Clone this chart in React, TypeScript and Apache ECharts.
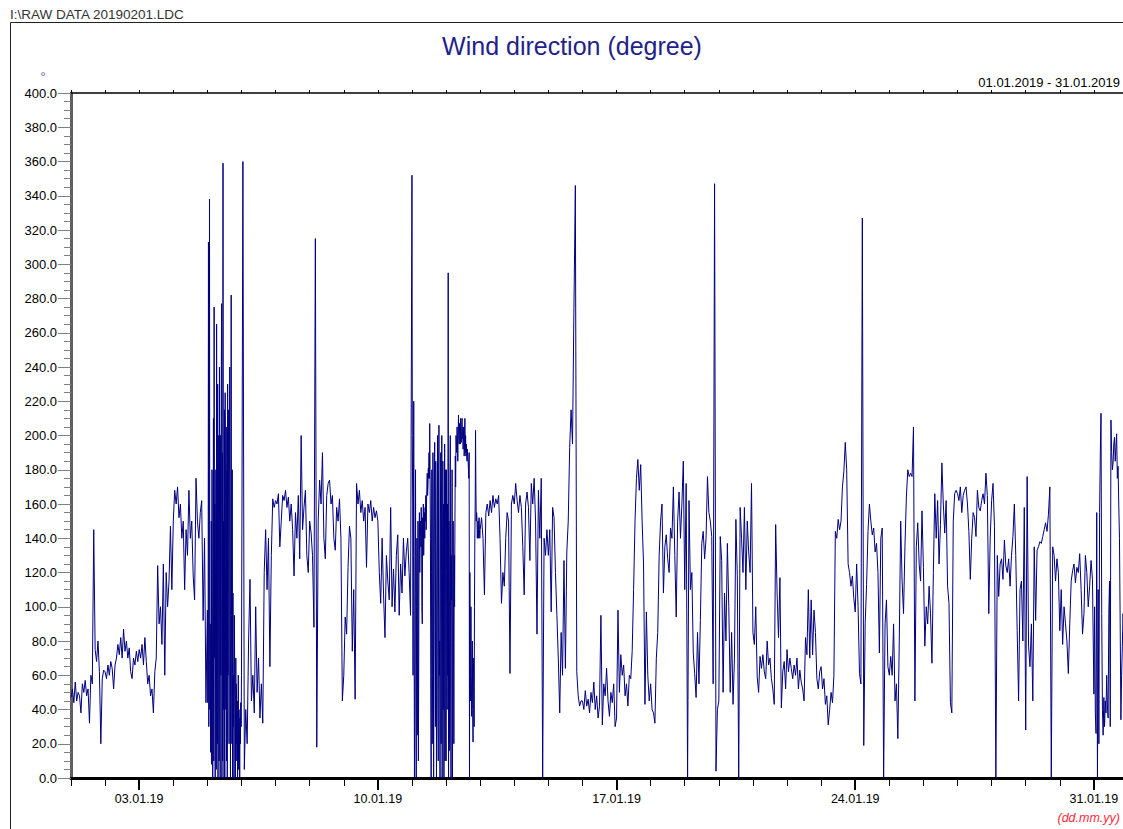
import React, { useEffect, useRef } from "react";
import * as echarts from "echarts";

// Wind direction (degree), January 2019. One row per day; hourly values,
// quarter-hourly / half-hourly on the turbulent days listed below.
const jan01 = [47,52,44,56,45,50,48,38,55,50,57,48,52,32,60,55,145,75,68,80,62,20,58,63];
const jan02 = [62,58,66,60,68,64,52,66,70,78,72,82,70,87,74,80,70,76,62,58,70,66,74,68];
const jan03 = [75,70,78,66,82,68,55,60,48,52,38,62,70,124,90,100,78,125,60,120,100,115,147,110];
const jan04 = [150,168,160,170,152,160,140,150,110,145,130,168,140,150,118,104,175,150,140,155,162,92,140,44];
const jan05 = [
  98,44,60,313,30,120,338,40,90,15,20,150,
  8,180,100,0,40,210,10,275,70,160,0,120,
  180,5,265,30,20,230,0,150,200,10,240,60,
  0,200,60,230,277,0,190,10,359,40,150,0,
  215,0,225,90,40,205,10,180,0,230,60,180,
  215,20,195,240,120,0,160,282,95,20,180,0,
  108,30,60,0,95,56,40,0,70,20,55,10,
  45,0,20,60,5,40,30,0,35,20,44,30,
];
const jan06 = [60,360,5,40,20,80,116,45,60,38,100,50,70,35,55,32,120,145,110,140,65,130,163,158];
const jan07 = [162,160,166,135,150,165,162,168,158,164,150,160,145,118,155,140,165,128,200,145,158,168,130,120];
const jan08 = [150,143,130,88,315,18,150,174,160,190,140,128,165,172,174,160,165,140,133,158,150,163,140,45];
const jan09 = [60,94,84,123,147,140,74,110,46,172,160,168,155,162,150,158,123,160,155,162,150,158,152,156];
const jan10 = [150,120,102,140,107,82,130,115,104,158,100,122,97,130,142,95,125,108,140,118,132,140,120,95];
const jan11 = [
  352,200,160,60,130,220,90,0,40,130,180,60,
  0,100,140,25,80,150,10,60,145,155,120,142,
  150,135,158,148,100,90,152,140,160,130,145,155,
  140,158,150,165,145,160,170,178,165,170,181,175,
  190,175,207,180,140,60,0,120,180,20,60,190,
  150,0,100,170,196,80,30,185,120,0,90,150,
  200,40,10,180,206,60,80,0,150,190,20,120,
  200,0,100,185,40,160,0,90,195,10,150,180,
];
const jan12 = [
  10,180,120,40,160,60,295,0,150,100,16,175,
  200,41,0,130,104,180,0,60,150,79,20,130,
  100,150,188,170,200,195,190,205,198,185,200,212,
  200,195,207,203,195,210,204,196,200,210,198,205,
  192,200,205,188,196,210,190,200,188,195,190,185,
  192,188,185,180,175,190,0,120,66,45,100,60,
  36,55,80,40,21,70,60,30,100,140,160,203,
  170,150,155,152,140,145,150,140,148,152,145,140,
];
const jan13 = [145,152,140,107,155,160,153,162,155,165,158,163,160,165,140,102,120,112,140,155,150,61,160,165];
const jan14 = [160,172,162,155,165,158,135,107,160,167,158,127,172,160,175,150,84,168,140,175,0,140,130,145];
const jan15 = [130,145,97,158,152,120,95,70,38,85,60,127,64,132,150,193,215,195,274,346,62,48,42,45];
const jan16 = [45,40,51,42,46,38,50,44,56,40,48,35,42,95,31,55,48,64,45,36,50,44,55,30];
const jan17 = [35,98,50,72,60,66,48,55,42,60,58,74,110,150,175,186,168,183,150,125,43,97,60,45];
const jan18 = [55,40,38,32,70,85,130,150,160,108,135,142,128,120,146,140,170,130,94,150,167,140,160,185];
const jan19 = [110,172,0,162,110,120,73,61,47,85,55,92,137,144,128,140,176,155,150,141,55,347,4,40];
const jan20 = [45,141,127,50,108,80,137,100,50,85,43,70,151,118,0,158,140,120,158,110,150,132,120,172];
const jan21 = [85,78,100,59,50,71,64,72,62,58,80,66,70,58,52,43,148,108,82,117,41,62,68,52];
const jan22 = [75,62,70,64,58,66,60,70,52,63,56,52,45,82,72,110,70,104,72,98,85,58,52,62];
const jan23 = [65,52,58,43,48,31,40,50,44,60,144,140,151,145,150,170,179,196,180,125,120,112,118,105];
const jan24 = [97,125,100,61,55,327,19,90,113,144,160,150,142,146,132,137,120,73,140,146,0,90,104,65];
const jan25 = [60,71,60,90,45,55,23,80,150,115,96,135,164,180,176,178,176,205,45,135,149,125,115,156];
const jan26 = [123,77,100,90,112,96,67,120,166,140,162,125,148,184,160,143,162,112,102,44,38,150,166,168];
const jan27 = [166,162,170,155,165,168,170,160,144,116,140,155,152,141,168,158,156,162,166,160,178,165,96,140];
const jan28 = [162,172,147,0,130,106,125,128,116,139,124,120,128,112,130,141,160,130,86,45,110,115,80,158];
const jan29 = [28,176,77,65,90,45,135,92,133,135,138,137,141,145,149,144,154,170,0,135,130,115,128,120];
const jan30 = [86,110,78,100,90,80,61,90,115,121,125,114,123,120,131,110,84,96,130,120,100,112,127,116];
const jan31 = [49,100,38,26,155,0,110,20,155,188,213,96,40,25,47,30,45,38,60,42,35,96,115,30,209,190,180,184,195,199,185,193,201,175,182,160,140,90,34,60,77,96,85];

const dailyValues = [
  jan01, jan02, jan03, jan04, jan05, jan06, jan07, jan08, jan09, jan10,
  jan11, jan12, jan13, jan14, jan15, jan16, jan17, jan18, jan19, jan20,
  jan21, jan22, jan23, jan24, jan25, jan26, jan27, jan28, jan29, jan30, jan31,
];
const quarterHourDays = [4, 10, 11];
const halfHourDays = [30];

const weekTickDays = [2, 9, 16, 23, 30];
const weekTickLabels = ["03.01.19", "10.01.19", "17.01.19", "24.01.19", "31.01.19"];

const fileName = "I:\\RAW DATA 20190201.LDC";
const chartTitle = "Wind direction (degree)";
const periodText = "01.01.2019 - 31.01.2019";
const unitText = "°";
const dateFormatText = "(dd.mm.yy)";

const FONT = '"Liberation Sans", Arial, Helvetica, sans-serif';
const CANVAS_W = 1140;

function buildPoints(): [number, number][] {
  const pts: [number, number][] = [];
  dailyValues.forEach((vals, d) => {
    const n = quarterHourDays.includes(d) ? 96 : halfHourDays.includes(d) ? 48 : 24;
    vals.forEach((v, i) => pts.push([d + i / n, v]));
  });
  return pts;
}

export default function App() {
  const ref = useRef<HTMLDivElement>(null);

  useEffect(() => {
    if (!ref.current) return;
    const chart = echarts.init(ref.current, null, { renderer: "svg" });
    const baseX = {
      type: "value",
      min: 0,
      max: 31,
      interval: 1,
      gridIndex: 0,
      splitLine: { show: false },
    };
    chart.setOption({
      animation: false,
      backgroundColor: "#ffffff",
      grid: { left: 71, top: 93, width: 1057, height: 685, containLabel: false },
      xAxis: [
        {
          ...baseX,
          position: "bottom",
          axisLine: { show: true, onZero: false, lineStyle: { color: "#000000", width: 3 } },
          axisTick: { show: true, length: 8, lineStyle: { color: "#000000", width: 1 } },
          axisLabel: {
            show: true,
            margin: 14,
            fontSize: 12.5,
            color: "#000000",
            fontFamily: FONT,
            formatter: (v: number) => {
              const k = weekTickDays.indexOf(Math.round(v));
              return k >= 0 ? weekTickLabels[k] : "";
            },
          },
        },
        {
          ...baseX,
          position: "bottom",
          axisLine: { show: false, onZero: false },
          axisTick: {
            show: true,
            length: 12,
            customValues: weekTickDays,
            lineStyle: { color: "#000000", width: 2 },
          },
          axisLabel: { show: false },
        },
        {
          ...baseX,
          position: "top",
          axisLine: { show: true, onZero: false, lineStyle: { color: "#000000", width: 1.5 } },
          axisTick: { show: true, length: 3, lineStyle: { color: "#000000", width: 1 } },
          axisLabel: { show: false },
        },
      ],
      yAxis: {
        type: "value",
        min: 0,
        max: 400,
        interval: 20,
        axisLine: { show: true, onZero: false, lineStyle: { color: "#606060", width: 3 } },
        axisTick: { show: true, length: 13, lineStyle: { color: "#808080", width: 1 } },
        minorTick: { show: true, splitNumber: 4, length: 7, lineStyle: { color: "#808080", width: 1 } },
        axisLabel: {
          margin: 14,
          fontSize: 13,
          color: "#000000",
          fontFamily: FONT,
          formatter: (v: number) => v.toFixed(1),
        },
        splitLine: { show: false },
        minorSplitLine: { show: false },
      },
      series: [
        {
          type: "line",
          xAxisIndex: 0,
          yAxisIndex: 0,
          data: buildPoints(),
          showSymbol: false,
          symbol: "none",
          clip: true,
          lineStyle: { color: "#000080", width: 1 },
          z: 1,
        },
      ],
      graphic: [
        { type: "line", shape: { x1: 10.5, y1: 22.5, x2: CANVAS_W, y2: 22.5 }, style: { stroke: "#222222", lineWidth: 1 } },
        { type: "line", shape: { x1: 10.5, y1: 22.5, x2: 10.5, y2: 829 }, style: { stroke: "#222222", lineWidth: 1 } },
        {
          type: "text", x: 10, y: 14,
          style: { text: fileName, fill: "#333333", font: `13.5px ${FONT}`, textAlign: "left", align: "left", textVerticalAlign: "middle", verticalAlign: "middle" },
        },
        {
          type: "text", x: 572, y: 46,
          style: { text: chartTitle, fill: "#22228a", font: `25px ${FONT}`, textAlign: "center", align: "center", textVerticalAlign: "middle", verticalAlign: "middle" },
        },
        {
          type: "text", x: 1120, y: 82,
          style: { text: periodText, fill: "#000000", font: `13px ${FONT}`, textAlign: "right", align: "right", textVerticalAlign: "middle", verticalAlign: "middle" },
        },
        {
          type: "text", x: 43, y: 77,
          style: { text: unitText, fill: "#6a6ab4", font: `14px ${FONT}`, textAlign: "center", align: "center", textVerticalAlign: "middle", verticalAlign: "middle" },
        },
        {
          type: "text", x: 1120, y: 818,
          style: { text: dateFormatText, fill: "#ff2a3a", font: `italic 12.5px ${FONT}`, textAlign: "right", align: "right", textVerticalAlign: "middle", verticalAlign: "middle" },
        },
      ],
    });
    return () => chart.dispose();
  }, []);

  return (
    <div
      ref={ref}
      style={{ position: "fixed", left: 0, top: 0, width: CANVAS_W, height: 829, background: "#fff" }}
    />
  );
}
